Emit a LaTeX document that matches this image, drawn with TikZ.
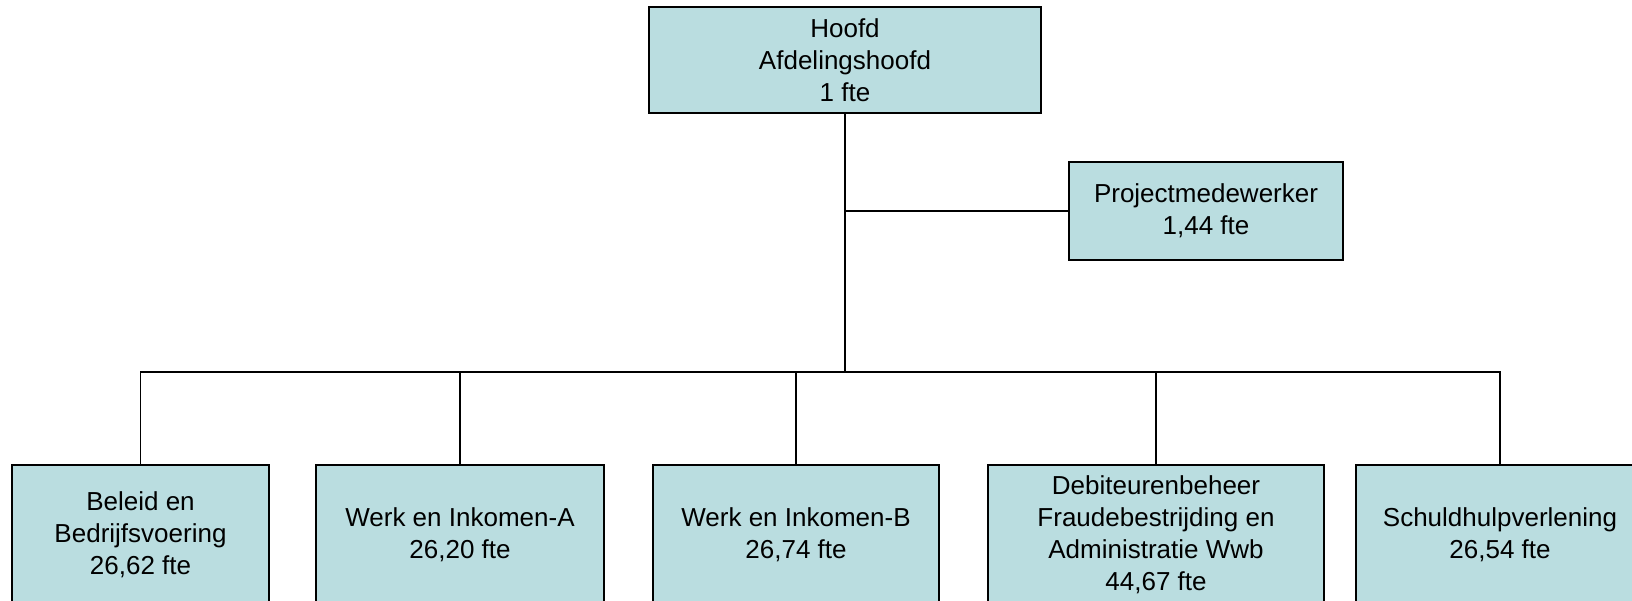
\documentclass[tikz,border=0pt]{standalone}
\usepackage{fontspec}
\setmainfont{Liberation Sans}
\usetikzlibrary{positioning, calc}
\definecolor{boxfill}{RGB}{186,221,224}

\begin{document}
\begin{tikzpicture}[x=1cm, y=1cm,
	box/.style={draw, line width=0.6pt, fill=boxfill, inner sep=0pt, align=center,
		font=\fontsize{7.4}{9.1}\selectfont},
	link/.style={line width=0.4pt}]
	\useasboundingbox (0, 0) rectangle (16.32, 6.00);
	% top of the chart
	\node[box, minimum width=3.92cm, minimum height=1.06cm] (hoofd) at (8.45, 5.40) {Hoofd\\Afdelingshoofd\\1 fte};
	\node[box, minimum width=2.74cm, minimum height=0.98cm] (proj) at (12.06, 3.89) {Projectmedewerker\\1,44 fte};
	% departments
	\node[box, minimum width=2.57cm, minimum height=1.40cm] (beleid) at (1.405, 0.65) {Beleid en\\Bedrijfsvoering\\26,62 fte};
	\node[box, minimum width=2.88cm, minimum height=1.40cm] (wia) at (4.60, 0.65) {Werk en Inkomen-A\\26,20 fte};
	\node[box, minimum width=2.86cm, minimum height=1.40cm] (wib) at (7.96, 0.65) {Werk en Inkomen-B\\26,74 fte};
	\node[box, minimum width=3.36cm, minimum height=1.40cm] (debit) at (11.56, 0.65) {Debiteurenbeheer\\Fraudebestrijding en\\Administratie Wwb\\44,67 fte};
	\node[box, minimum width=2.88cm, minimum height=1.40cm] (schuld) at (15.00, 0.65) {Schuldhulpverlening\\26,54 fte};
	\coordinate (bus) at (8.45, 2.28);
	% lines
	\draw[line width=0.6pt] (hoofd.south) -- (bus);
	\draw[link] (hoofd.south |- proj.west) -- (proj.west);
	\foreach \d in {beleid, wia, wib, debit, schuld}
		\draw[link] (\d.north) |- (bus);
\end{tikzpicture}
\end{document}
